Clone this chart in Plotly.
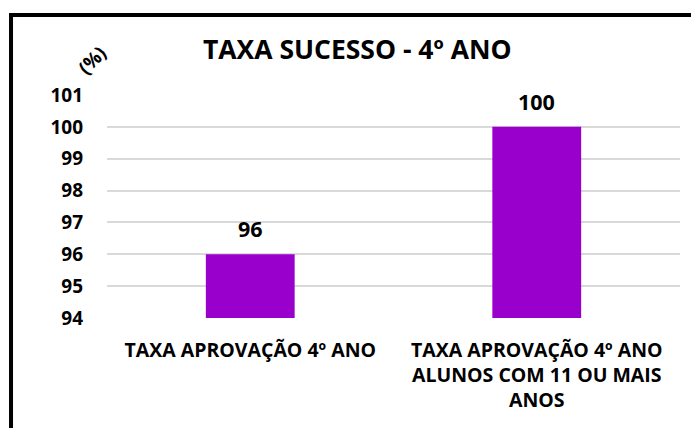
import plotly.graph_objects as go

categories = ["TAXA APROVAÇÃO 4º ANO", "TAXA APROVAÇÃO 4º ANO<br>ALUNOS COM 11 OU MAIS<br>ANOS"]
values = [96, 100]
title_text = "TAXA SUCESSO - 4º ANO"
tick_vals = [94, 95, 96, 97, 98, 99, 100, 101]

FONT = "'Open Sans', sans-serif"
BAR = "#9900CC"

fig = go.Figure()
fig.add_trace(go.Bar(
    x=[0, 1], y=values, base=0,
    marker=dict(color=BAR, line=dict(width=0)),
    width=0.31,
    cliponaxis=True,
))

for i, v in enumerate(values):
    fig.add_annotation(x=i, y=v, xref="x", yref="y", text="<b>%d</b>" % v,
                       showarrow=False, yanchor="bottom", xanchor="center", yshift=9,
                       font=dict(family=FONT, size=21.5, color="black"))

fig.update_layout(
    width=691, height=428,
    margin=dict(l=107, r=11, t=95, b=110),
    paper_bgcolor="white", plot_bgcolor="white",
    showlegend=False,
    font=dict(family=FONT, color="black"),
    title=dict(text="<b>" + title_text + "</b>", x=0.517, xanchor="center",
               y=0.883, yanchor="middle", font=dict(family=FONT, size=26.5, color="black")),
    xaxis=dict(tickmode="array", tickvals=[0, 1],
               ticktext=["<b>" + c.replace("<br>", "</b><br><b>") + "</b>" for c in categories],
               range=[-0.5, 1.5], showgrid=False, zeroline=False, showline=False,
               tickfont=dict(family=FONT, size=19.5, color="black"), ticks="", tickangle=0,
               ticklabelstandoff=18),
    yaxis=dict(range=[94, 101], tickvals=tick_vals, showgrid=True, gridcolor="#D9D9D9",
               gridwidth=1.5, zeroline=False, showline=False, ticks="",
               tickfont=dict(family=FONT, size=19, color="black", weight="bold"), ticklabelstandoff=23),
)

fig.add_annotation(text="<b>(%)</b>", xref="paper", yref="paper", x=-0.026, y=1.157,
                   xanchor="center", yanchor="middle",
                   showarrow=False, textangle=-45, font=dict(family=FONT, size=19, color="black"))

# outer border (cut by the image edges)
fig.add_shape(type="line", xref="paper", yref="paper", x0=-0.1675, x1=-0.1675, y0=1.367, y1=-0.6,
              line=dict(color="black", width=4))
fig.add_shape(type="line", xref="paper", yref="paper", x0=-0.171, x1=1.1, y0=1.3587, y1=1.3587,
              line=dict(color="black", width=4))

fig.write_html("out.html", config={"displayModeBar": False},
               post_script="document.body.style.margin='0';")
